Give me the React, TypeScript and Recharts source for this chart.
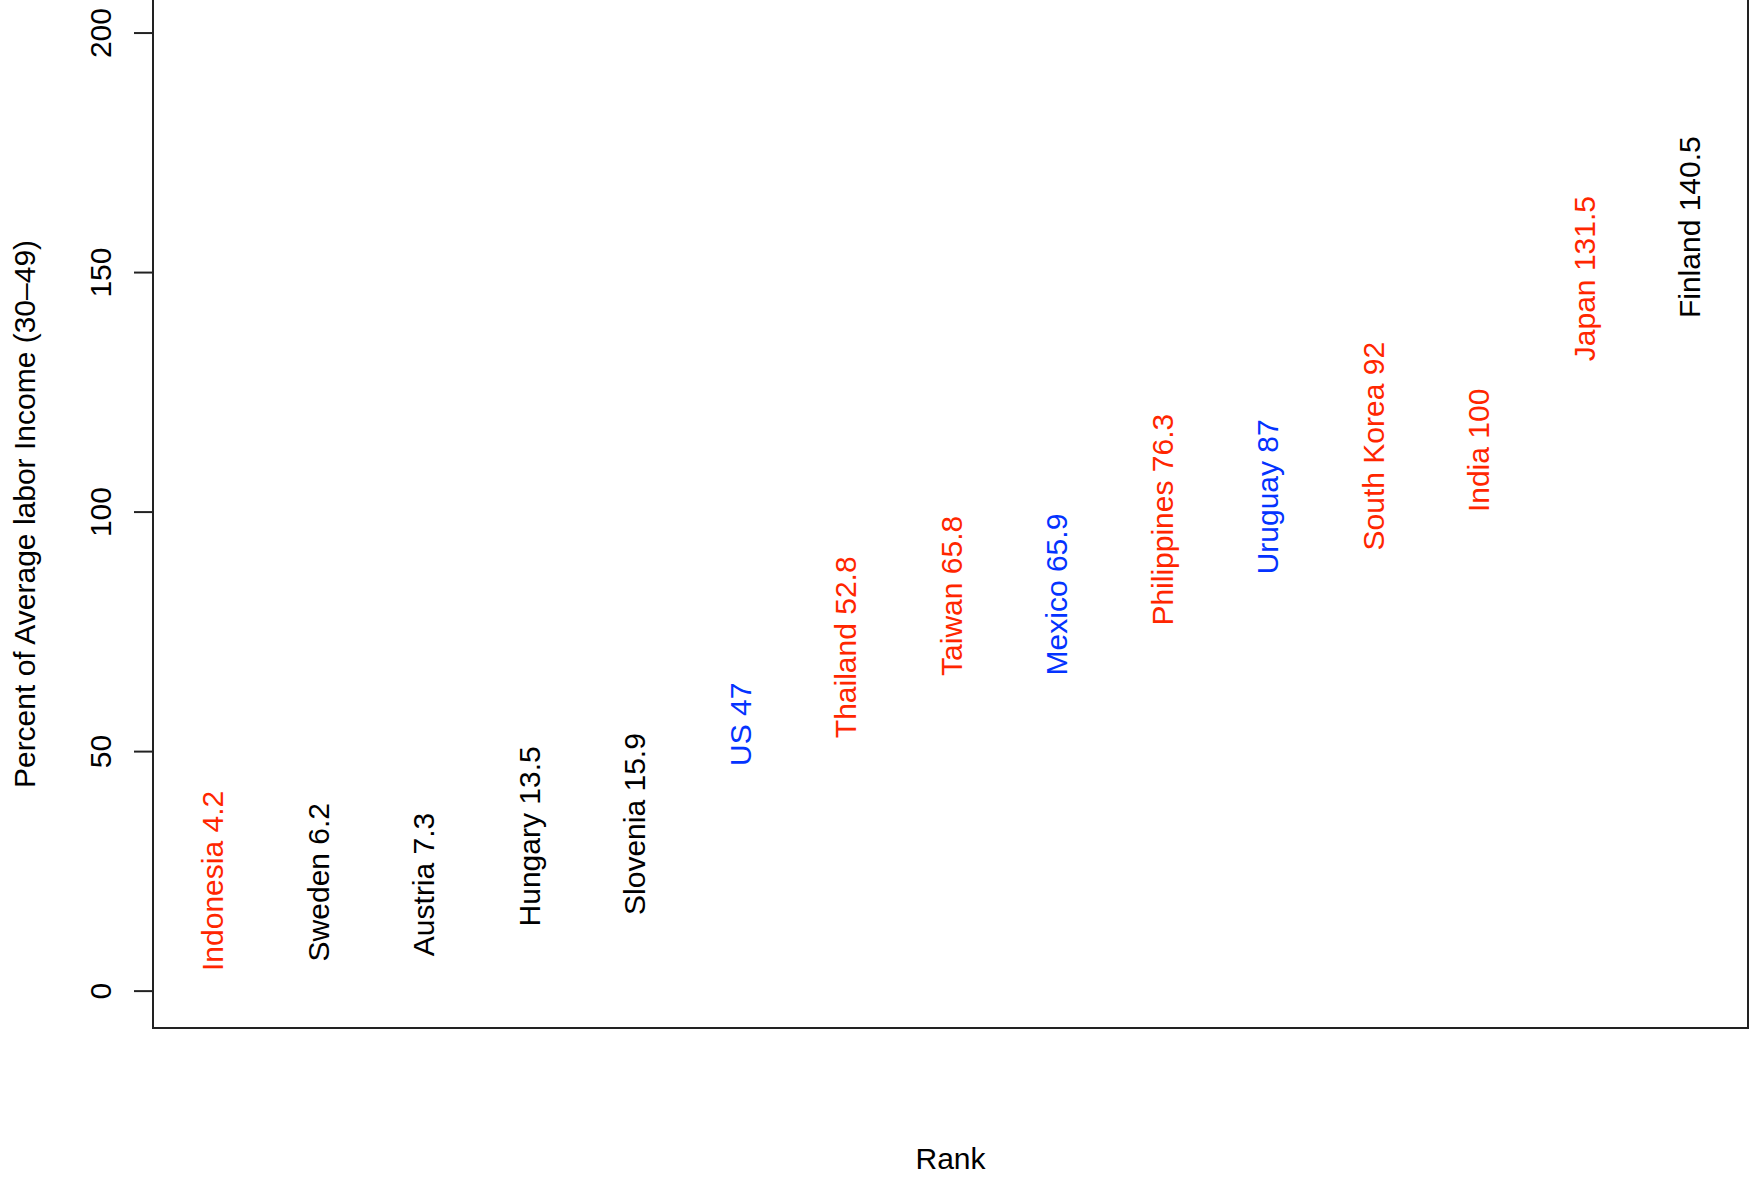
import { ScatterChart, Scatter, XAxis, YAxis, ReferenceArea } from 'recharts';

const countries = [
  'Indonesia', 'Sweden', 'Austria', 'Hungary', 'Slovenia', 'US', 'Thailand', 'Taiwan',
  'Mexico', 'Philippines', 'Uruguay', 'South Korea', 'India', 'Japan', 'Finland',
];
const percents = [4.2, 6.2, 7.3, 13.5, 15.9, 47, 52.8, 65.8, 65.9, 76.3, 87, 92, 100, 131.5, 140.5];
const groups = [
  'red', 'black', 'black', 'black', 'black', 'blue', 'red', 'red',
  'blue', 'red', 'blue', 'red', 'red', 'red', 'black',
];
const yTicks = [0, 50, 100, 150, 200];

const groupColor: Record<string, string> = {
  red: '#FF2600',
  blue: '#0433FF',
  black: '#000000',
};

const FONT = '"Liberation Sans", Arial, Helvetica, sans-serif';

const data = countries.map((name, i) => ({
  rank: i + 1,
  value: percents[i],
  label: `${name} ${percents[i]}`,
  color: groupColor[groups[i]],
}));

const LabelShape = (props: any) => {
  const { cx, cy, payload } = props;
  return (
    <text
      transform={`translate(${cx}, ${cy}) rotate(-90)`}
      textAnchor="start"
      dy="0.37em"
      fontSize={30}
      fontFamily={FONT}
      fill={payload.color}
    >
      {payload.label}
    </text>
  );
};

const YTick = ({ y, payload }: any) => (
  <text
    transform={`translate(111, ${y}) rotate(-90)`}
    textAnchor="middle"
    fontSize={30}
    fontFamily={FONT}
    fill="#000"
  >
    {payload.value}
  </text>
);

export default function App() {
  return (
    <div style={{ position: 'absolute', left: 0, top: 0, background: '#fff' }}>
      <style>{`body{margin:0;background:#fff}`}</style>
      <ScatterChart width={1750} height={1181} margin={{ top: 0, right: 2, bottom: 0, left: 0 }}>
        <XAxis
          type="number"
          dataKey="rank"
          domain={[0.44, 15.56]}
          allowDataOverflow
          height={153}
          tick={false}
          axisLine={false}
          tickLine={false}
          label={(p: any) => {
            const vb = p.viewBox;
            return (
              <text
                x={vb.x + vb.width / 2}
                y={vb.y + 141}
                textAnchor="middle"
                fontSize={30}
                fontFamily={FONT}
                fill="#000"
              >
                Rank
              </text>
            );
          }}
        />
        <YAxis
          type="number"
          dataKey="value"
          domain={[-7.7, 206.9]}
          allowDataOverflow
          ticks={yTicks}
          width={153}
          axisLine={false}
          tickSize={19}
          tickLine={{ stroke: '#222', strokeWidth: 2 }}
          tick={<YTick />}
          label={(p: any) => {
            const vb = p.viewBox;
            const cy = vb.y + vb.height / 2;
            return (
              <text
                transform={`translate(35, ${cy}) rotate(-90)`}
                textAnchor="middle"
                fontSize={30}
                fontFamily={FONT}
                fill="#000"
              >
                Percent of Average labor Income (30–49)
              </text>
            );
          }}
        />
        <ReferenceArea
          x1={0.44}
          x2={15.56}
          y1={-7.7}
          y2={212}
          ifOverflow="visible"
          fill="none"
          fillOpacity={0}
          stroke="#222"
          strokeWidth={2}
        />
        <Scatter data={data} shape={<LabelShape />} isAnimationActive={false} />
      </ScatterChart>
    </div>
  );
}
